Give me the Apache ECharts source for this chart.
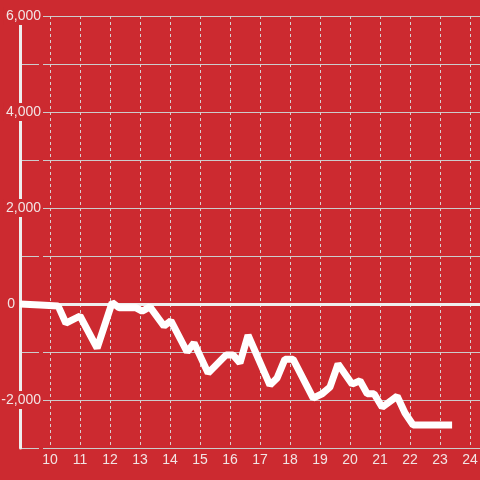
<!DOCTYPE html>
<html>
<head>
<meta charset="utf-8">
<script src="https://cdn.jsdelivr.net/npm/echarts@6/dist/echarts.min.js"></script>
<style>html,body{margin:0;padding:0;background:#cc2a30;}#c{width:480px;height:480px;}</style>
</head>
<body>
<div id="c"></div>
<script>
var xValues = [9.0, 9.67, 10.27, 10.53, 11.0, 11.57, 12.07, 12.3, 12.87, 13.07, 13.33, 13.8, 14.03, 14.57, 14.8, 15.27, 15.87, 16.1, 16.33, 16.6, 17.33, 17.57, 17.83, 18.1, 18.77, 19.07, 19.33, 19.6, 20.07, 20.33, 20.57, 20.8, 21.07, 21.57, 21.83, 22.1, 23.4];
var yValues = [0, -20, -40, -400, -250, -920, 30, -80, -80, -150, -60, -460, -350, -1000, -810, -1440, -1060, -1060, -1230, -650, -1690, -1540, -1150, -1150, -1960, -1870, -1730, -1250, -1670, -1600, -1870, -1870, -2150, -1920, -2270, -2520, -2520];
var yTicks = [-3000, 6000, 1000];
var xTicks = [9, 24.33, 1];
var zeroLabel = '0';

var data = xValues.map(function (x, i) { return [x, yValues[i]]; });
var textColor = '#f2e4e4';
var chart = echarts.init(document.getElementById('c'));
chart.setOption({
  backgroundColor: '#cc2a30',
  animation: false,
  grid: { left: 20, right: 0, top: 16, bottom: 32, containLabel: false, outerBoundsMode: 'none' },
  xAxis: {
    type: 'value',
    min: xTicks[0], max: xTicks[1], interval: xTicks[2],
    axisLine: { show: false },
    axisTick: { show: false },
    axisLabel: {
      color: textColor, fontSize: 14, fontFamily: 'Liberation Sans', margin: 5,
      showMinLabel: false, showMaxLabel: false
    },
    splitLine: { show: true, lineStyle: { color: '#d8d0d0', type: [3, 3], width: 1 } }
  },
  yAxis: {
    type: 'value',
    min: yTicks[0], max: yTicks[1], interval: yTicks[2],
    axisLine: { show: true, lineStyle: { color: '#eeeeee', width: 3 } },
    axisTick: { show: false },
    axisLabel: {
      color: textColor, fontSize: 14, fontFamily: 'Liberation Sans', margin: -23,
      backgroundColor: '#cc2a30', padding: [2, 2, 2, 2],
      formatter: function (v) {
        if (v % 2000 !== 0 || v === 0) return '';
        return echarts.format.addCommas(v);
      }
    },
    splitLine: { show: true, lineStyle: { color: '#cccccc', width: 1 } }
  },
  series: [{
    type: 'line',
    data: data,
    showSymbol: false,
    symbol: 'none',
    z: 5,
    lineStyle: { color: '#ffffff', width: 7 },
    itemStyle: { color: '#ffffff' },
    markLine: {
      silent: true,
      symbol: 'none',
      label: {
        show: true, position: 'start', distance: 5, formatter: zeroLabel,
        color: textColor, fontSize: 14, fontFamily: 'Liberation Sans'
      },
      lineStyle: { color: '#eeeeee', width: 3, type: 'solid' },
      data: [{ yAxis: 0 }]
    }
  }]
});
</script>
</body>
</html>
